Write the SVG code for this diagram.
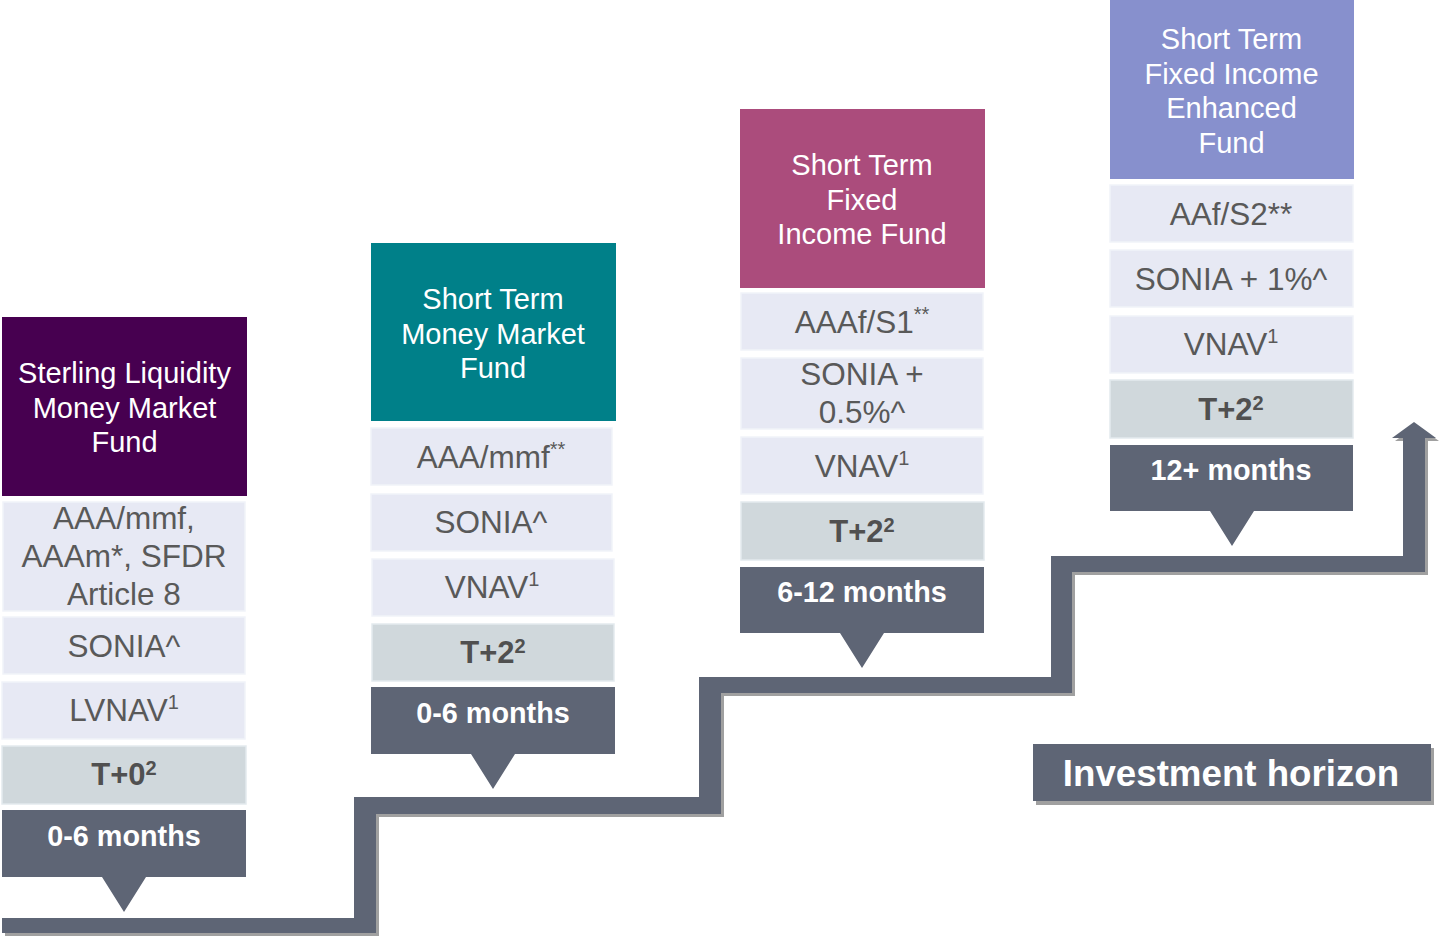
<svg xmlns="http://www.w3.org/2000/svg" width="1440" height="938" viewBox="0 0 1440 938">
<style>
text{font-family:"Liberation Sans",Arial,sans-serif;text-anchor:middle}
.h{font-size:29px;fill:#fff}
.c{fill:#e7e9f4;stroke:#f1f3f9;stroke-width:1.500}
.g{fill:#d0d8dc;stroke:#e3eaee;stroke-width:1.500}
.t{font-size:31.500px;fill:#595959}
.b{font-size:31px;font-weight:bold;fill:#505050}
.d{fill:#5e6575}
.m{font-size:28.800px;font-weight:bold;fill:#fff}
.s{font-size:20px}
.q{font-size:20px;font-weight:bold}
.sh{fill:#a0a0a0}
</style>
<defs>
<path id="stair" d="M2 918H354V797H699V677H1051V556H1403V438H1392L1414 422L1436 438H1425V572H1072V693H721V814H376V933H2Z"/>
</defs>
<rect width="1440" height="938" fill="#fff"/>
<g id="connectors">
<use href="#stair" class="sh" transform="translate(3 3)"/>
<use href="#stair" class="d"/>
</g>
<g id="fund1">
<rect x="2" y="317" width="245" height="179" fill="#470050"/>
<text class="h" x="124.500" y="382.500">Sterling Liquidity</text>
<text class="h" x="124.500" y="417.500">Money Market</text>
<text class="h" x="124.500" y="451.500">Fund</text>
<rect class="c" x="3" y="502" width="242" height="109"/>
<text class="t" x="124" y="529">AAA/mmf,</text>
<text class="t" x="124" y="567">AAAm*, SFDR</text>
<text class="t" x="124" y="605">Article 8</text>
<rect class="c" x="3" y="617" width="242" height="57"/>
<text class="t" x="124" y="657">SONIA^</text>
<rect class="c" x="2" y="682" width="243" height="57"/>
<text class="t" x="124" y="721">LVNAV<tspan class="s" dy="-12">1</tspan></text>
<rect class="g" x="2" y="746" width="244" height="58"/>
<text class="b" x="124" y="785">T+0<tspan class="q" dy="-10">2</tspan></text>
<path class="d" d="M2 810H246V877H146L124 912L102 877H2Z"/>
<text class="m" x="124" y="846">0-6 months</text>
</g>
<g id="fund2">
<rect x="371" y="243" width="245" height="178" fill="#008089"/>
<text class="h" x="493" y="308.500">Short Term</text>
<text class="h" x="493" y="343.500">Money Market</text>
<text class="h" x="493" y="377.500">Fund</text>
<rect class="c" x="371" y="428" width="241" height="57"/>
<text class="t" x="491" y="468">AAA/mmf<tspan class="s" dy="-12">**</tspan></text>
<rect class="c" x="371" y="494" width="241" height="57"/>
<text class="t" x="491" y="533">SONIA^</text>
<rect class="c" x="372" y="559" width="242" height="57"/>
<text class="t" x="492" y="598">VNAV<tspan class="s" dy="-12">1</tspan></text>
<rect class="g" x="372" y="624" width="242" height="57"/>
<text class="b" x="493" y="663">T+2<tspan class="q" dy="-10">2</tspan></text>
<path class="d" d="M371 687H615V754H515L493 789L471 754H371Z"/>
<text class="m" x="493" y="723">0-6 months</text>
</g>
<g id="fund3">
<rect x="740" y="109" width="245" height="179" fill="#ab4c7c"/>
<text class="h" x="862" y="174.500">Short Term</text>
<text class="h" x="862" y="209.500">Fixed</text>
<text class="h" x="862" y="243.500">Income Fund</text>
<rect class="c" x="741" y="293" width="242" height="57"/>
<text class="t" x="862" y="333">AAAf/S1<tspan class="s" dy="-12">**</tspan></text>
<rect class="c" x="741" y="358" width="242" height="71"/>
<text class="t" x="862" y="385">SONIA +</text>
<text class="t" x="862" y="423">0.5%^</text>
<rect class="c" x="741" y="437" width="242" height="57"/>
<text class="t" x="862" y="477">VNAV<tspan class="s" dy="-12">1</tspan></text>
<rect class="g" x="741" y="502" width="243" height="58"/>
<text class="b" x="862" y="542">T+2<tspan class="q" dy="-10">2</tspan></text>
<path class="d" d="M740 567H984V633H884L862 668L840 633H740Z"/>
<text class="m" x="862" y="602">6-12 months</text>
</g>
<g id="fund4">
<rect x="1110" y="0" width="244" height="179" fill="#8790cd"/>
<text class="h" x="1231.500" y="48.500">Short Term</text>
<text class="h" x="1231.500" y="83.500">Fixed Income</text>
<text class="h" x="1231.500" y="117.500">Enhanced</text>
<text class="h" x="1231.500" y="152.500">Fund</text>
<rect class="c" x="1110" y="185" width="243" height="57"/>
<text class="t" x="1231" y="225">AAf/S2**</text>
<rect class="c" x="1110" y="250" width="243" height="57"/>
<text class="t" x="1231" y="290">SONIA + 1%^</text>
<rect class="c" x="1110" y="316" width="243" height="57"/>
<text class="t" x="1231" y="355">VNAV<tspan class="s" dy="-12">1</tspan></text>
<rect class="g" x="1110" y="380" width="243" height="58"/>
<text class="b" x="1231" y="420">T+2<tspan class="q" dy="-10">2</tspan></text>
<path class="d" d="M1110 445H1353V511H1254L1232 546L1210 511H1110Z"/>
<text class="m" x="1231" y="480">12+ months</text>
</g>
<g id="horizon">
<rect class="sh" x="1036" y="748" width="398" height="57"/>
<rect class="d" x="1033" y="744" width="398" height="57"/>
<text x="1231" y="786" font-size="36.700" font-weight="bold" fill="#fff">Investment horizon</text>
</g>
</svg>
